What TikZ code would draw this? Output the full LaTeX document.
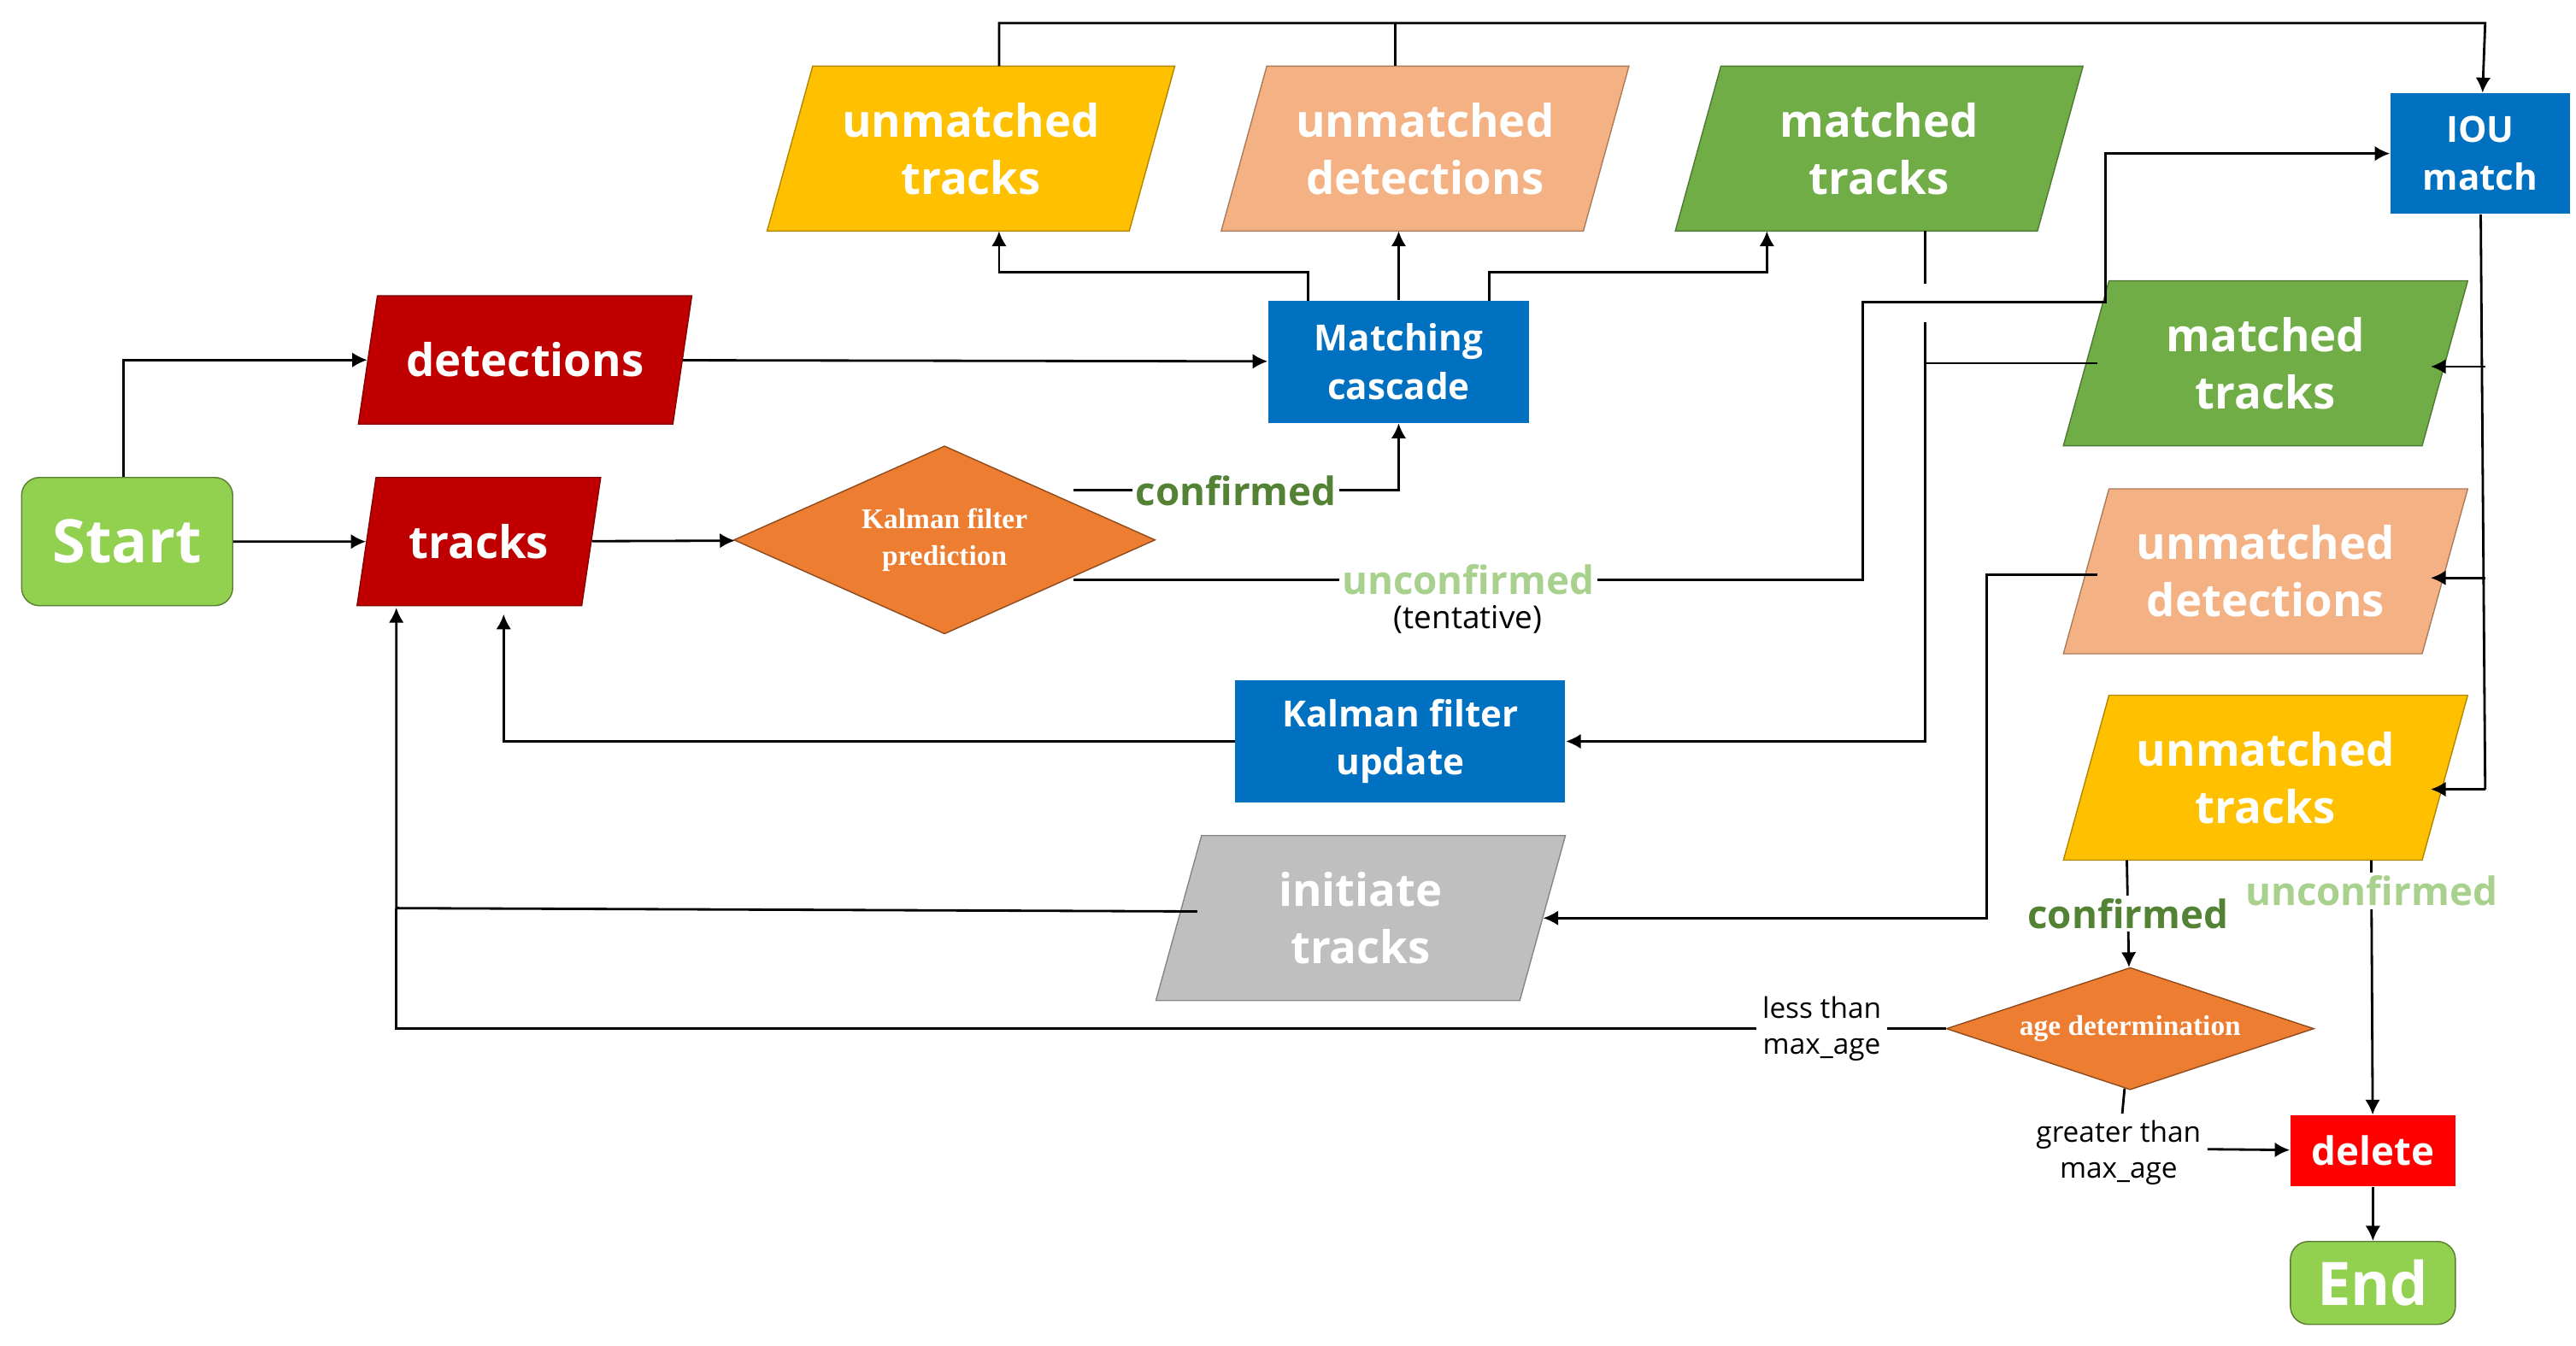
\documentclass[tikz,border=0pt]{standalone}
\usepackage{fontspec}
\setmainfont{Open Sans}
\newfontfamily\diafont{Liberation Serif}
\usetikzlibrary{shapes.geometric,arrows.meta}

\definecolor{cgreen}{HTML}{92D050}
\definecolor{cdred}{HTML}{C00000}
\definecolor{corange}{HTML}{ED7D31}
\definecolor{cblue}{HTML}{0070C0}
\definecolor{cyellow}{HTML}{FFC000}
\definecolor{cpeach}{HTML}{F4B183}
\definecolor{cmgreen}{HTML}{70AD47}
\definecolor{cgray}{HTML}{BFBFBF}
\definecolor{cconf}{HTML}{548235}
\definecolor{cunconf}{HTML}{A9D18E}

\tikzset{
    para/.style={trapezium, trapezium left angle=65, trapezium right angle=115,
        trapezium stretches body, draw=#1!70!black, fill=#1, text=white,
        font=\fontsize{15}{19}\selectfont\bfseries, align=center, inner sep=1pt},
    box/.style={rectangle, fill=cblue, text=white, align=center,
        font=\fontsize{12}{16}\selectfont\bfseries},
    term/.style={rectangle, rounded corners=6pt, draw=cgreen!60!black, fill=cgreen,
        text=white, font=\fontsize{20}{24}\selectfont\bfseries},
    dia/.style={diamond, aspect=2.3, draw=corange!60!black, fill=corange, text=white,
        inner sep=0pt, align=center, font=\diafont\fontsize{9.5}{12}\selectfont\bfseries},
    small/.style={font=\fontsize{9.5}{12}\selectfont, align=center, fill=white, inner sep=2pt},
    lab/.style={font=\fontsize{13}{15}\selectfont\bfseries, fill=white, inner sep=1pt},
    line/.style={thick},
    arr/.style={thick, -{Latex[length=5pt,width=5pt]}}
}

\begin{document}
\begin{tikzpicture}[x=0.01932cm, y=-0.01932cm]
    \useasboundingbox (0,0) rectangle (1560,815);

    % Nodes
    \node (start) at (77,328) [term, minimum width=2.47cm, minimum height=1.5cm] {Start};
    \node (det) at (318,218) [para=cdred, minimum width=3.9cm, minimum height=1.5cm] {detections};
    \node (trk) at (290,328) [para=cdred, minimum width=2.85cm, minimum height=1.5cm] {tracks};
    \node (kfp) at (572,327) [dia, minimum width=4.93cm, minimum height=2.2cm] {Kalman filter\\prediction};
    \node (mc) at (847,219) [box, minimum width=3.05cm, minimum height=1.43cm] {Matching\\cascade};
    \node (utop) at (588,90) [para=cyellow, minimum width=4.77cm, minimum height=1.93cm] {unmatched\\tracks};
    \node (dtop) at (863,90) [para=cpeach, minimum width=4.77cm, minimum height=1.93cm] {unmatched\\detections};
    \node (mtop) at (1138,90) [para=cmgreen, minimum width=4.77cm, minimum height=1.93cm] {matched\\tracks};
    \node (iou) at (1502,93) [box, minimum width=2.1cm, minimum height=1.41cm] {IOU\\match};
    \node (mr) at (1372,220) [para=cmgreen, minimum width=4.73cm, minimum height=1.93cm] {matched\\tracks};
    \node (dr) at (1372,346) [para=cpeach, minimum width=4.73cm, minimum height=1.93cm] {unmatched\\detections};
    \node (ur) at (1372,471) [para=cyellow, minimum width=4.73cm, minimum height=1.93cm] {unmatched\\tracks};
    \node (kfu) at (848,449) [box, minimum width=3.86cm, minimum height=1.43cm] {Kalman filter\\update};
    \node (init) at (824,556) [para=cgray, minimum width=4.79cm, minimum height=1.93cm] {initiate\\tracks};
    \node (age) at (1290,623) [dia, minimum width=4.3cm, minimum height=1.3cm] {age determination};
    \node (del) at (1437,697) [rectangle, fill=red, text=white, minimum width=1.93cm,
        minimum height=0.83cm, font=\fontsize{13}{15}\selectfont\bfseries] {delete};
    \node (end) at (1437,777) [term, minimum width=1.93cm, minimum height=0.97cm] {End};
    \node (gt) at (1283,698) [small] {greater than\\max\_age};

    % Coordinates for bends
    \coordinate (c1) at (1128,351);
    \coordinate (c2) at (1275,183);
    \coordinate (c3) at (1166,449);
    \coordinate (c4) at (1203,348);
    \coordinate (c5) at (240,623);
    \coordinate (c6) at (1505,14);

    % Connectors
    \draw[arr] (start.north west) ++(62,0) |- (det);
    \draw[arr] (start) -- (trk);
    \draw[arr] (trk) -- (kfp);
    \draw[arr] (det) -- (mc);
    \draw[arr] (650,297) -- node[lab, text=cconf] {confirmed} (847,297) -- (mc);
    \draw[arr] (650,351) -- node[lab, text=cunconf] {unconfirmed}
        node[below=5pt, font=\fontsize{10.5}{12}\selectfont] {(tentative)} (c1) |- (c2) |- (iou);
    \draw[arr] (792,182) |- (605,165) -- (605,140);
    \draw[arr] (mc) -- (847,140);
    \draw[arr] (902,182) |- (1070,165) -- (1070,140);
    \draw[arr] (605,40) |- (c6) -- (iou);
    \draw[line] (845,40) -- (845,14);
    \draw[line] (1166,140) -- (1166,172);
    \draw[arr] (1166,195) -- (c3) -- (kfu);
    \draw[line] (1270,220) -- (1166,220);
    \draw[line] (iou) -- (1505,478);
    \draw[arr] (1505,222) -- (1472,222);
    \draw[arr] (1505,350) -- (1472,350);
    \draw[arr] (1505,478) -- (1472,478);
    \draw[arr] (1270,348) -- (c4) |- (init);
    \draw[arr] (kfu) -| (305,372);
    \draw[arr] (725,552) -- (240,550) -- (240,368);
    \draw[line] (age) -- node[small, pos=0.08] {less than\\max\_age} (c5) -- (240,550);
    \draw[arr] (1288,521) -- node[lab, text=cconf] {confirmed} (age);
    \draw[arr] (1436,521) -- node[lab, text=cunconf, pos=0.12] {unconfirmed} (del);
    \draw[line] (age) -- (gt);
    \draw[arr] (gt.east) ++(0,-2) -- (del);
    \draw[arr] (del) -- (end);
\end{tikzpicture}
\end{document}
